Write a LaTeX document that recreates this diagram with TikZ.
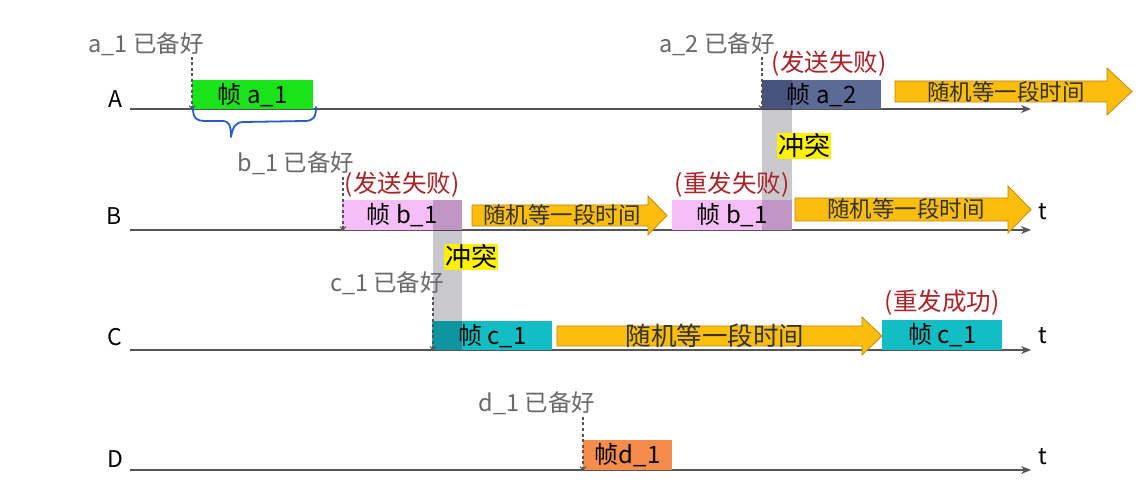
\documentclass[tikz,border=0pt]{standalone}
\usepackage{fontspec}
\setmainfont{Noto Sans CJK SC}
\usetikzlibrary{arrows.meta}
\definecolor{linegray}{RGB}{85,85,85}
\definecolor{labelgray}{RGB}{105,105,105}
\definecolor{statred}{RGB}{170,35,40}
\definecolor{framegreen}{RGB}{25,228,25}
\definecolor{frameslate}{RGB}{92,106,152}
\definecolor{framepink}{RGB}{246,190,246}
\definecolor{frameteal}{RGB}{18,190,196}
\definecolor{frameorange}{RGB}{245,140,75}
\definecolor{waitorange}{RGB}{252,190,12}
\definecolor{arrowedge}{RGB}{190,130,0}
\definecolor{braceblue}{RGB}{40,92,200}
\definecolor{barshade}{RGB}{0,0,20}
\begin{document}
\begin{tikzpicture}[x=1pt,y=-1pt,
  timeline/.style={draw=linegray, line width=1.6pt, -{Stealth[length=10pt,width=8pt]}},
  rowlabel/.style={font=\fontsize{23}{23}\selectfont, text=black, inner sep=0pt},
  tlabel/.style={font=\fontsize{23}{23}\selectfont, text=black, inner sep=0pt},
  frame/.style={anchor=north west, inner sep=0pt, font=\fontsize{24}{24}\selectfont, text=black},
  ready/.style={text=labelgray, font=\fontsize{23.5}{23.5}\selectfont, inner sep=0pt},
  status/.style={text=statred, font=\fontsize{24.5}{24.5}\selectfont, inner sep=0pt},
  readyline/.style={draw=linegray, line width=1.1pt, dash pattern=on 3pt off 2.5pt, -{Straight Barb[length=3pt,width=6pt]}},
  collide/.style={fill=yellow, inner sep=1pt, font=\fontsize{26}{26}\selectfont, text=black},
  collbar/.style={fill=barshade, fill opacity=0.21, draw=none},
  waitarrow/.style={draw=arrowedge, fill=waitorange, line width=0.7pt},
  waittext/.style={font=\fontsize{22.5}{22.5}\selectfont, text=black!80, inner sep=0pt},
  brace/.style={draw=braceblue, line width=1.8pt, line cap=round, line join=round}
]
\useasboundingbox[fill=white] (0,0) rectangle (1144,494);

% timelines
\coordinate (A0) at (130,109); \coordinate (A1) at (1031,109);
\coordinate (B0) at (130,230); \coordinate (B1) at (1031,230);
\coordinate (C0) at (130,350); \coordinate (C1) at (1031,350);
\coordinate (D0) at (130,470); \coordinate (D1) at (1031,470);
\draw[timeline] (A0) -- (A1);
\draw[timeline] (B0) -- (B1);
\draw[timeline] (C0) -- (C1);
\draw[timeline] (D0) -- (D1);

\node[rowlabel] (lA) at (115,99) {A};
\node[rowlabel] (lB) at (114,216) {B};
\node[rowlabel] (lC) at (115,337) {C};
\node[rowlabel] (lD) at (115,459) {D};
\node[tlabel] (tB) at (1043,212) {t};
\node[tlabel] (tC) at (1043,336) {t};
\node[tlabel] (tD) at (1043,457) {t};

% frames
\node[frame, fill=framegreen, minimum width=121pt, minimum height=29pt] (fa1) at (192,80) {帧 a\_1};
\node[frame, fill=frameslate, minimum width=119pt, minimum height=29pt] (fa2) at (762,80) {帧 a\_2};
\node[frame, fill=framepink, minimum width=120pt, minimum height=30pt] (fb1) at (342,200) {帧 b\_1};
\node[frame, fill=framepink, minimum width=120pt, minimum height=30pt] (fb2) at (672,200) {帧 b\_1};
\node[frame, fill=frameteal, minimum width=120pt, minimum height=29pt] (fc1) at (432,321) {帧 c\_1};
\node[frame, fill=frameteal, minimum width=120pt, minimum height=30pt] (fc2) at (882,320) {帧 c\_1};
\node[frame, fill=frameorange, minimum width=89pt, minimum height=30pt] (fd1) at (583,440) {帧d\_1};

% collision bars
\path[collbar] (762,80) rectangle (792,230);
\path[collbar] (433,200) rectangle (462,350);

% ready labels and dashed lines
\node[ready] (ra1) at (146,44) {a\_1 已备好};
\node[ready] (ra2) at (717,44) {a\_2 已备好};
\node[ready] (rb1) at (296,163) {b\_1 已备好};
\node[ready] (rc1) at (387,283) {c\_1 已备好};
\node[ready] (rd1) at (537,403) {d\_1 已备好};
\coordinate (da1) at (192,57);
\coordinate (da2) at (762,57);
\coordinate (db1) at (343,177);
\coordinate (dc1) at (433,297);
\coordinate (dd1) at (583,417);
\draw[readyline] (da1) -- (fa1.south west);
\draw[readyline] (da2) -- (fa2.south west);
\draw[readyline] (db1) -- ([xshift=1pt]fb1.south west);
\draw[readyline] (dc1) -- ([xshift=1pt]fc1.south west);
\draw[readyline] (dd1) -- (fd1.south west);

% status labels
\node[status] (sa2) at (829,64) {(发送失败)};
\node[status] (sb1) at (402,185) {(发送失败)};
\node[status] (sb2) at (732,185) {(重发失败)};
\node[status] (sc2) at (942,303) {(重发成功)};

% collision labels
\node[collide] (cab) at (804,146) {冲突};
\node[collide] (cbc) at (471,257) {冲突};

% waiting arrows
\draw[waitarrow] (895,81) -- (1107,81) -- (1107,68) -- (1132,91.5) -- (1107,115) -- (1107,102) -- (895,102) -- cycle;
\node[waittext] (wA) at (1006,92) {随机等一段时间};
\draw[waitarrow] (472,205) -- (648,205) -- (648,196) -- (667,215.5) -- (648,235) -- (648,226) -- (472,226) -- cycle;
\node[waittext] (wB1) at (562,215) {随机等一段时间};
\draw[waitarrow] (795,198) -- (1008,198) -- (1008,186) -- (1031,209.5) -- (1008,233) -- (1008,221) -- (795,221) -- cycle;
\node[waittext] (wB2) at (906,209) {随机等一段时间};
\draw[waitarrow] (557,326) -- (862,326) -- (862,317) -- (882,336) -- (862,355) -- (862,346) -- (557,346) -- cycle;
\node[waittext, font=\fontsize{25.5}{25.5}\selectfont] (wC) at (715,336) {随机等一段时间};

% hand-drawn brace under frame a_1
\draw[brace] (193,108) .. controls (193,118) and (196,121) .. (206,121)
  -- (222,121) .. controls (229,121) and (231,125) .. (231,137)
  .. controls (233,126) and (236,122) .. (244,122)
  -- (304,121) .. controls (314,121) and (316,117) .. (316,107);
\end{tikzpicture}
\end{document}
